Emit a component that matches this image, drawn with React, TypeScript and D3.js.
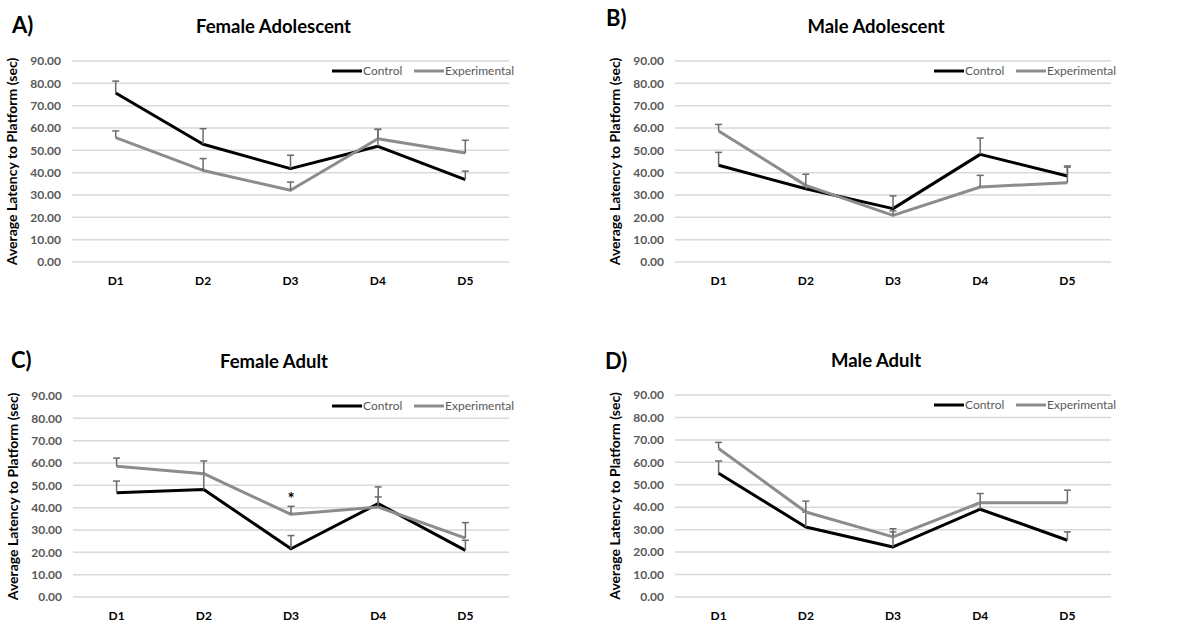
import React from 'react';
import * as d3 from 'd3';

const days = ['D1', 'D2', 'D3', 'D4', 'D5'];
const yTicks = [0, 10, 20, 30, 40, 50, 60, 70, 80, 90];
const seriesNames = ['Control', 'Experimental'];

// mean latency and upper error (sec) per day
const femaleAdolescentControl = [75.7, 52.7, 41.8, 51.8, 36.9];
const femaleAdolescentControlErr = [5.3, 7.0, 6.0, 7.6, 3.8];
const femaleAdolescentExp = [55.7, 41.0, 32.1, 55.2, 48.8];
const femaleAdolescentExpErr = [3.0, 5.3, 3.7, 4.2, 5.7];

const maleAdolescentControl = [43.3, 32.8, 23.9, 48.2, 38.5];
const maleAdolescentControlErr = [5.8, 1.2, 5.7, 7.3, 4.5];
const maleAdolescentExp = [58.7, 34.3, 20.9, 33.6, 35.5];
const maleAdolescentExpErr = [2.9, 5.0, 2.0, 5.2, 7.0];

const femaleAdultControl = [46.7, 48.1, 21.6, 41.8, 20.9];
const femaleAdultControlErr = [5.2, 6.8, 5.9, 3.0, 4.5];
const femaleAdultExp = [58.5, 55.2, 37.0, 40.3, 26.4];
const femaleAdultExpErr = [3.7, 5.7, 3.6, 9.0, 6.9];

const maleAdultControl = [55.1, 31.2, 22.3, 39.1, 25.3];
const maleAdultControlErr = [5.5, 6.6, 6.7, 2.8, 3.7];
const maleAdultExp = [66.2, 37.9, 26.8, 42.0, 42.0];
const maleAdultExpErr = [2.7, 4.8, 3.6, 4.1, 5.6];

const panels = [
  { tag: 'A)', title: 'Female Adolescent', control: femaleAdolescentControl, controlErr: femaleAdolescentControlErr, exp: femaleAdolescentExp, expErr: femaleAdolescentExpErr, star: -1,
    left: 72, right: 509, top: 61, bottom: 262, tagX: 12, tagY: 33 },
  { tag: 'B)', title: 'Male Adolescent', control: maleAdolescentControl, controlErr: maleAdolescentControlErr, exp: maleAdolescentExp, expErr: maleAdolescentExpErr, star: -1,
    left: 675, right: 1111, top: 61, bottom: 262, tagX: 606, tagY: 26 },
  { tag: 'C)', title: 'Female Adult', control: femaleAdultControl, controlErr: femaleAdultControlErr, exp: femaleAdultExp, expErr: femaleAdultExpErr, star: 2,
    left: 73, right: 509, top: 396, bottom: 597, tagX: 11, tagY: 368 },
  { tag: 'D)', title: 'Male Adult', control: maleAdultControl, controlErr: maleAdultControlErr, exp: maleAdultExp, expErr: maleAdultExpErr, star: -1,
    left: 675, right: 1111, top: 395, bottom: 597, tagX: 605, tagY: 369 },
];

const FONT = 'Lato, "Open Sans", sans-serif';
const colors = ['#000000', '#8c8c8c'];

function Panel({ p }) {
  const x = d3.scalePoint().domain(days).range([p.left, p.right]).padding(0.5);
  const y = d3.scaleLinear().domain([0, 90]).range([p.bottom, p.top]);
  const line = d3.line<number>().x((_, i) => x(days[i])).y((d) => y(d));
  const series = [
    { vals: p.control, err: p.controlErr },
    { vals: p.exp, err: p.expErr },
  ];
  const mid = (p.left + p.right) / 2 - 17;
  const legX = p.right - 177;
  const legY = p.top + 10;

  return (
    <g>
      <text x={p.tagX} y={p.tagY} fontSize={22} fontWeight="bold" fontFamily={FONT} fill="#000">{p.tag}</text>
      <text x={mid} y={p.top - 28} textAnchor="middle" fontSize={18.5} fontWeight="bold" fontFamily={FONT} fill="#000">{p.title}</text>
      <text transform={`translate(${p.left - 55},${(p.top + p.bottom) / 2}) rotate(-90)`} textAnchor="middle"
        fontSize={14} fontWeight="bold" fontFamily={FONT} fill="#000">Average Latency to Platform (sec)</text>
      {yTicks.map((t) => (
        <g key={t}>
          <line x1={p.left} x2={p.right} y1={y(t)} y2={y(t)} stroke="#d9d9d9" strokeWidth={1.5} />
          <text x={p.left - 11} y={y(t)} dy="0.35em" textAnchor="end" fontSize={12} fontWeight="bold" fontFamily={FONT} fill="#595959">{t.toFixed(2)}</text>
        </g>
      ))}
      {days.map((d) => (
        <text key={d} x={x(d)} y={p.bottom + 23} textAnchor="middle" fontSize={12} fontWeight="bold" fontFamily={FONT} fill="#000">{d}</text>
      ))}
      {series.map((s, si) => (
        <g key={si}>
          <path d={line(s.vals)} fill="none" stroke={colors[si]} strokeWidth={3} strokeLinejoin="round" />
          {s.vals.map((v, i) => (
            <g key={i} stroke="#6b6b6b" strokeWidth={1.5}>
              <line x1={x(days[i])} x2={x(days[i])} y1={y(v)} y2={y(v + s.err[i])} />
              <line x1={x(days[i]) - 3.5} x2={x(days[i]) + 3.5} y1={y(v + s.err[i])} y2={y(v + s.err[i])} />
            </g>
          ))}
        </g>
      ))}
      {p.star >= 0 && (
        <text x={x(days[p.star])} y={y(p.exp[p.star] + p.expErr[p.star]) - 1} textAnchor="middle" fontSize={17} fontWeight="bold" fontFamily={FONT} fill="#000">*</text>
      )}
      {seriesNames.map((n, i) => (
        <g key={n} transform={`translate(${legX + i * 82},${legY})`}>
          <line x1={0} x2={30} y1={0} y2={0} stroke={colors[i]} strokeWidth={3} />
          <text x={31} y={0} dy="0.35em" fontSize={12} fontFamily={FONT} fill="#595959">{n}</text>
        </g>
      ))}
    </g>
  );
}

export default function App() {
  return (
    <svg width={1195} height={624} style={{ position: 'absolute', left: 0, top: 0, background: '#fff' }}>
      <rect width={1195} height={624} fill="#fff" />
      {panels.map((p) => <Panel key={p.tag} p={p} />)}
    </svg>
  );
}
